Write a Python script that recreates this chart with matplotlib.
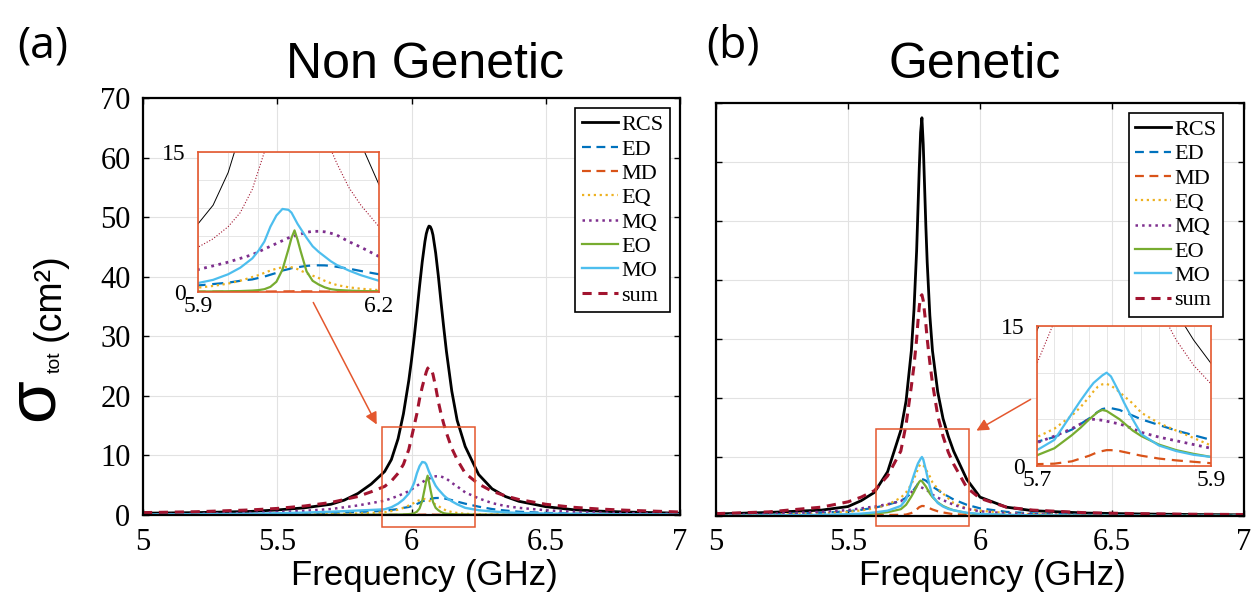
import matplotlib
matplotlib.use('Agg')
import matplotlib.pyplot as plt
from matplotlib.patches import Rectangle

plt.rcParams['font.family'] = 'Liberation Serif'

W, H = 1256, 597

# ---------------------------------------------------------------------------
#                      Data (cm^2)
# ---------------------------------------------------------------------------
names = ['RCS', 'ED', 'MD', 'EQ', 'MQ', 'EO', 'MO', 'sum']

# (a) Non Genetic
freq_a = [5.0, 5.2, 5.4, 5.5, 5.6, 5.7, 5.75, 5.8, 5.85, 5.9,
          5.925, 5.95, 5.97, 5.99, 6.0, 6.01, 6.02, 6.03, 6.04, 6.05,
          6.055, 6.06, 6.065, 6.07, 6.075, 6.08, 6.09, 6.1, 6.11, 6.12,
          6.13, 6.15, 6.17, 6.2, 6.25, 6.3, 6.35, 6.4, 6.5, 6.6,
          6.7, 6.8, 7.0]
rcs_a = [0.3, 0.4, 0.6, 0.85, 1.2, 1.8, 2.5, 3.6, 5.2, 7.3,
         9.3, 12.8, 17.0, 22.6, 26.0, 29.8, 34.0, 38.4, 42.5, 45.9,
         47.2, 48.0, 48.5, 48.4, 47.9, 47.0, 44.0, 40.1, 35.7, 31.5,
         27.5, 20.8, 15.9, 11.5, 6.8, 4.4, 3.1, 2.3, 1.4, 0.9,
         0.65, 0.5, 0.3]
ed_a = [0.05, 0.1, 0.15, 0.2, 0.28, 0.38, 0.45, 0.52, 0.6, 0.7,
        0.85, 1.0, 1.2, 1.35, 1.5, 1.65, 1.85, 2.05, 2.3, 2.45,
        2.55, 2.6, 2.65, 2.7, 2.75, 2.8, 2.85, 2.86, 2.85, 2.8,
        2.7, 2.5, 2.25, 1.9, 1.4, 1.0, 0.75, 0.55, 0.35, 0.25,
        0.18, 0.13, 0.08]
md_a = [0.0, 0.0, 0.01, 0.01, 0.01, 0.01, 0.02, 0.02, 0.02, 0.03,
        0.03, 0.03, 0.04, 0.04, 0.05, 0.05, 0.05, 0.06, 0.06, 0.07,
        0.07, 0.08, 0.08, 0.08, 0.07, 0.07, 0.06, 0.06, 0.05, 0.05,
        0.04, 0.04, 0.03, 0.03, 0.02, 0.02, 0.01, 0.01, 0.01, 0.01,
        0.0, 0.0, 0.0]
eq_a = [0.02, 0.03, 0.05, 0.07, 0.1, 0.15, 0.2, 0.25, 0.35, 0.46,
        0.65, 0.9, 1.2, 1.6, 1.8, 2.05, 2.3, 2.5, 2.65, 2.7,
        2.65, 2.55, 2.45, 2.3, 2.15, 2.0, 1.75, 1.5, 1.2, 0.95,
        0.75, 0.5, 0.35, 0.2, 0.12, 0.08, 0.06, 0.05, 0.03, 0.02,
        0.02, 0.01, 0.01]
mq_a = [0.1, 0.2, 0.35, 0.5, 0.7, 1.0, 1.3, 1.6, 2.0, 2.4,
        2.8, 3.2, 3.6, 4.0, 4.3, 4.6, 4.9, 5.2, 5.5, 5.8,
        5.9, 6.0, 6.1, 6.2, 6.3, 6.4, 6.5, 6.5, 6.45, 6.3,
        6.1, 5.4, 4.8, 3.8, 2.8, 2.0, 1.5, 1.2, 0.8, 0.55,
        0.4, 0.3, 0.2]
eo_a = [0.0, 0.0, 0.01, 0.01, 0.02, 0.03, 0.03, 0.04, 0.05, 0.05,
        0.06, 0.08, 0.1, 0.15, 0.2, 0.3, 0.55, 1.1, 2.4, 4.6,
        5.8, 6.6, 5.6, 4.4, 3.3, 2.2, 1.2, 0.8, 0.5, 0.3,
        0.22, 0.15, 0.1, 0.08, 0.05, 0.04, 0.03, 0.02, 0.02, 0.01,
        0.01, 0.01, 0.0]
mo_a = [0.1, 0.15, 0.2, 0.3, 0.4, 0.55, 0.65, 0.75, 0.85, 0.96,
        1.3, 1.9, 2.6, 3.6, 4.4, 5.4, 7.0, 8.2, 8.9, 8.8,
        8.5, 7.9, 7.3, 6.8, 6.3, 5.8, 4.9, 4.3, 3.8, 3.3,
        2.9, 2.3, 1.8, 1.2, 0.8, 0.6, 0.45, 0.35, 0.25, 0.2,
        0.15, 0.12, 0.1]
sum_a = [0.4, 0.55, 0.85, 1.1, 1.5, 2.1, 2.6, 3.1, 3.9, 4.8,
         5.7, 7.0, 8.5, 11.0, 13.0, 15.0, 17.0, 19.5, 21.5, 23.2,
         24.0, 24.6, 24.8, 24.7, 24.3, 23.6, 21.5, 19.0, 17.0, 15.3,
         13.8, 11.2, 9.3, 7.0, 5.2, 4.0, 3.2, 2.6, 1.8, 1.3,
         1.0, 0.8, 0.5]

# (b) Genetic
freq_b = [5.0, 5.2, 5.4, 5.5, 5.55, 5.6, 5.65, 5.7, 5.72, 5.74,
          5.75, 5.76, 5.765, 5.77, 5.775, 5.78, 5.785, 5.79, 5.795, 5.8,
          5.81, 5.82, 5.84, 5.86, 5.88, 5.9, 5.95, 6.0, 6.1, 6.2,
          6.4, 6.6, 6.8, 7.0]
rcs_b = [0.35, 0.6, 1.0, 1.6, 2.6, 4.0, 7.5, 14.5, 19.5, 28.0,
         35.0, 45.0, 52.0, 59.0, 65.0, 67.5, 63.0, 56.0, 49.0, 43.0,
         34.0, 28.0, 21.0, 16.5, 13.5, 11.0, 6.2, 3.2, 1.5, 0.9,
         0.5, 0.35, 0.25, 0.2]
ed_b = [0.1, 0.25, 0.55, 0.8, 1.05, 1.4, 1.9, 2.6, 3.1, 3.9,
        4.5, 5.1, 5.5, 5.8, 6.1, 6.2, 6.2, 6.1, 6.0, 5.8,
        5.4, 5.0, 4.4, 3.8, 3.3, 2.8, 1.9, 1.3, 0.7, 0.45,
        0.2, 0.12, 0.08, 0.06]
md_b = [0.0, 0.02, 0.05, 0.08, 0.1, 0.13, 0.17, 0.2, 0.25, 0.5,
        0.8, 1.1, 1.3, 1.5, 1.6, 1.7, 1.7, 1.65, 1.6, 1.5,
        1.3, 1.1, 0.8, 0.6, 0.45, 0.3, 0.2, 0.12, 0.06, 0.04,
        0.02, 0.01, 0.01, 0.0]
eq_b = [0.1, 0.2, 0.45, 0.7, 0.95, 1.3, 1.9, 3.1, 4.0, 5.4,
        6.3, 7.4, 8.0, 8.5, 8.75, 8.8, 8.6, 8.3, 7.9, 7.5,
        6.7, 5.7, 4.6, 3.8, 3.0, 2.2, 1.3, 0.9, 0.5, 0.3,
        0.15, 0.1, 0.07, 0.05]
mq_b = [0.15, 0.35, 0.7, 1.0, 1.3, 1.6, 2.0, 2.5, 3.2, 4.0,
        4.5, 5.0, 5.0, 4.95, 4.9, 4.8, 4.7, 4.6, 4.5, 4.35,
        4.0, 3.6, 3.1, 2.7, 2.3, 1.9, 1.2, 0.8, 0.45, 0.3,
        0.15, 0.1, 0.07, 0.05]
eo_b = [0.02, 0.05, 0.1, 0.2, 0.28, 0.4, 0.65, 1.15, 1.9, 3.3,
        4.1, 5.0, 5.4, 5.8, 6.0, 5.9, 5.6, 5.3, 5.0, 4.6,
        3.8, 3.2, 2.3, 1.7, 1.3, 0.97, 0.5, 0.3, 0.15, 0.1,
        0.05, 0.03, 0.02, 0.02]
mo_b = [0.05, 0.1, 0.2, 0.3, 0.4, 0.6, 0.9, 1.7, 2.8, 5.6,
        7.0, 8.3, 8.9, 9.3, 9.7, 10.0, 9.6, 8.7, 7.8, 6.8,
        5.0, 3.4, 2.2, 1.6, 1.2, 0.97, 0.55, 0.35, 0.2, 0.12,
        0.07, 0.05, 0.04, 0.03]
sum_b = [0.4, 0.7, 1.5, 2.4, 3.2, 4.3, 6.8, 11.0, 15.5, 22.0,
         25.5, 30.0, 33.0, 35.5, 37.2, 37.5, 36.5, 34.5, 32.5, 30.0,
         26.0, 22.5, 17.0, 13.5, 10.8, 8.8, 4.8, 3.0, 1.5, 1.0,
         0.55, 0.4, 0.3, 0.25]

series_a = [rcs_a, ed_a, md_a, eq_a, mq_a, eo_a, mo_a, sum_a]
series_b = [rcs_b, ed_b, md_b, eq_b, mq_b, eo_b, mo_b, sum_b]

# ---------------------------------------------------------------------------
#                           Styles
# ---------------------------------------------------------------------------
RED = '#E4572E'
colors = {'RCS': 'k', 'ED': '#0072BD', 'MD': '#D95319', 'EQ': '#EDB120',
          'MQ': '#7E2F8E', 'EO': '#77AC30', 'MO': '#4DBEEE', 'sum': '#A2142F'}
main_ls = {'RCS': ('-', 2.0), 'ED': ((0, (4, 2.5)), 1.6),
           'MD': ((0, (4, 2.5)), 1.6), 'EQ': (':', 1.6), 'MQ': (':', 1.8),
           'EO': ('-', 1.6), 'MO': ('-', 1.7), 'sum': ((0, (3, 2.2)), 2.2)}
inset_ls = {'RCS': ('-', 0.7), 'ED': ((0, (5, 3)), 1.6),
            'MD': ((0, (5, 3)), 1.6), 'EQ': (':', 1.6), 'MQ': (':', 2.0),
            'EO': ('-', 1.6), 'MO': ('-', 1.6), 'sum': (':', 0.8)}


def box(l, t, r, b):
    return [l / W, 1 - b / H, (r - l) / W, (b - t) / H]


def draw_curves(ax, freq, series, styles):
    for name, vals in zip(names, series):
        ls, lw = styles[name]
        ax.plot(freq, vals, color=colors[name], linestyle=ls,
                linewidth=lw, label=name)


def setup_main(ax, ylabels):
    ax.set_xlim(5, 7)
    ax.set_ylim(0, 70)
    ax.set_xticks([5, 5.5, 6, 6.5, 7])
    ax.set_xticklabels(['5', '5.5', '6', '6.5', '7'])
    ax.set_yticks(range(0, 71, 10))
    if not ylabels:
        ax.set_yticklabels([])
    ax.grid(True, color='#e2e2e2', linewidth=0.8)
    ax.set_axisbelow(True)
    ax.tick_params(direction='in', top=True, right=True, length=4,
                   width=1, labelsize=22, pad=9)
    for s in ax.spines.values():
        s.set_linewidth(1.6)


def add_inset(pos, xlim, gx, gy, xlab, freq, series):
    axi = fig.add_axes(box(*pos))
    draw_curves(axi, freq, series, inset_ls)
    axi.set_xlim(xlim)
    axi.set_ylim(0, 15)
    axi.set_xticks(xlim)
    axi.set_xticklabels(xlab)
    axi.set_yticks([0, 15])
    axi.set_yticklabels(['0', '15'])
    axi.set_xticks(gx, minor=True)
    axi.set_yticks(gy, minor=True)
    axi.grid(True, which='both', color='#e6e6e6', linewidth=0.7)
    axi.set_axisbelow(True)
    axi.tick_params(which='both', length=0, labelsize=17)
    axi.tick_params(axis='x', pad=3)
    axi.tick_params(axis='y', pad=9)
    for s in axi.spines.values():
        s.set_color(RED)
        s.set_linewidth(1.2)
    return axi


fig = plt.figure(figsize=(W / 100, H / 100), dpi=100)

ax_a = fig.add_axes(box(143, 98, 680, 515))
ax_b = fig.add_axes(box(716, 103, 1244, 516))

for ax, freq, series in [(ax_a, freq_a, series_a), (ax_b, freq_b, series_b)]:
    draw_curves(ax, freq, series, main_ls)

setup_main(ax_a, True)
setup_main(ax_b, False)

leg_kw = dict(loc='upper right', borderaxespad=0, fancybox=False,
              edgecolor='k', framealpha=1, handlelength=1.6,
              handletextpad=0.15, labelspacing=0.17, borderpad=0.3,
              prop={'family': 'Liberation Serif', 'size': 16})
for ax, anchor in [(ax_a, (0.981, 0.976)), (ax_b, (0.96, 0.976))]:
    leg = ax.legend(bbox_to_anchor=anchor, **leg_kw)
    leg.get_frame().set_linewidth(1.2)

# zoom windows on the main axes
ax_a.add_patch(Rectangle((5.89, -2.0), 0.347, 16.8, fill=False,
                         edgecolor=RED, linewidth=1.1, clip_on=False,
                         zorder=5))
ax_b.add_patch(Rectangle((5.606, -1.7), 0.352, 16.5, fill=False,
                         edgecolor=RED, linewidth=1.1, clip_on=False,
                         zorder=5))

add_inset((198, 152, 379, 292), [5.9, 6.2],
          [5.95, 6.0, 6.05, 6.1, 6.15], [3, 6, 9, 12],
          ['5.9', '6.2'], freq_a, series_a)
add_inset((1037, 326, 1211, 466), [5.7, 5.9],
          [5.72, 5.74, 5.76, 5.78, 5.8, 5.82, 5.84, 5.86, 5.88],
          [5, 10], ['5.7', '5.9'], freq_b, series_b)

# arrows from insets to zoom windows
arrow = dict(arrowstyle='-|>', color=RED, lw=1.1, mutation_scale=18)
fig.add_artist(plt.Annotation('', xy=(378 / W, 1 - 427 / H),
                              xytext=(312 / W, 1 - 300 / H),
                              xycoords='figure fraction',
                              arrowprops=arrow))
fig.add_artist(plt.Annotation('', xy=(974 / W, 1 - 432 / H),
                              xytext=(1033 / W, 1 - 398 / H),
                              xycoords='figure fraction',
                              arrowprops=arrow))

# titles, panel letters, axis labels
sans = 'Liberation Sans'
fig.text(425 / W, 1 - 65 / H, 'Non Genetic', family=sans, fontsize=36,
         ha='center', va='center')
fig.text(975 / W, 1 - 65 / H, 'Genetic', family=sans, fontsize=36,
         ha='center', va='center')
fig.text(43 / W, 1 - 46 / H, '(a)', family='Open Sans', fontsize=32,
         ha='center', va='center')
fig.text(733 / W, 1 - 46 / H, '(b)', family='Open Sans', fontsize=32,
         ha='center', va='center')
for xc in (424, 992):
    fig.text(xc / W, 1 - 575 / H, 'Frequency (GHz)', family=sans,
             fontsize=25, ha='center', va='center')

# y label: large sigma, subscript and unit
fig.text(35 / W, 1 - 400 / H, 'σ', family=sans, fontsize=50,
         rotation=90, ha='center', va='center')
fig.text(55 / W, 1 - 362 / H, 'tot', family=sans, fontsize=14,
         rotation=90, ha='center', va='center')
fig.text(50 / W, 1 - 297 / H, '(cm²)', family=sans, fontsize=27,
         rotation=90, ha='center', va='center')

fig.savefig('out.png', dpi=100)
